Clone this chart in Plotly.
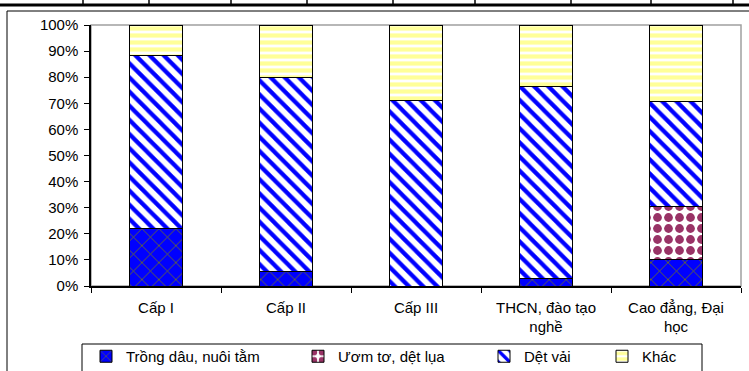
import plotly.graph_objects as go

categories = ["Cấp I", "Cấp II", "Cấp III", "THCN, đào tạo<br>nghề", "Cao đẳng, Đại<br>học"]
trong_dau = [0.222, 0.054, 0.0, 0.03, 0.103]
uom_to = [0.0, 0.0, 0.0, 0.0, 0.200]
det_vai = [0.663, 0.746, 0.709, 0.736, 0.402]
khac = [0.115, 0.200, 0.291, 0.234, 0.295]
series_names = ["Trồng dâu, nuôi tằm", "Ươm tơ, dệt lụa", "Dệt vải", "Khác"]
y_ticks = [i / 10 for i in range(11)]

W, H = 749, 371
L, R, T, B = 91, 741, 25, 286


def px(x):
    return (x - L) / (R - L)


def py(y):
    return (B - y) / (B - T)


FONT = "Liberation Sans, Arial, sans-serif"

styles = [
    dict(shape="x", fgcolor="#808000", bgcolor="#0000FF", size=12, solidity=0.12),
    dict(shape=".", fgcolor="#993366", bgcolor="#FFFFFF", size=11, solidity=0.5),
    dict(shape="\\", fgcolor="#0000FF", bgcolor="#FFFFFF", size=10, solidity=0.42),
    dict(shape="-", fgcolor="#FFFF99", bgcolor="#FFFFFF", size=7, solidity=0.6),
]
legend_ids = ["legend", "legend2", "legend3", "legend4"]
legend_centers = [110, 322, 508, 626]

fig = go.Figure()
for name, vals, st, lid in zip(series_names, [trong_dau, uom_to, det_vai, khac], styles, legend_ids):
    fig.add_trace(go.Bar(
        x=categories, y=vals, name=name, width=0.41, legend=lid,
        marker=dict(color=st["bgcolor"], pattern=dict(fillmode="replace", **st),
                    line=dict(color="#000000", width=1)),
    ))

shapes = []
shapes.append(dict(type="rect", xref="paper", yref="paper", x0=0, x1=1, y0=0, y1=1,
                   line=dict(color="#A0A0A0", width=1.5), layer="below"))
shapes.append(dict(type="rect", xref="paper", yref="paper", x0=px(7), x1=px(760), y0=py(11), y1=py(380),
                   line=dict(color="#000000", width=1)))
shapes.append(dict(type="line", xref="paper", yref="paper", x0=px(0), x1=px(749), y0=py(5), y1=py(5),
                   line=dict(color="#000000", width=3)))
for tx in [83, 149, 231, 307, 393, 475, 571, 651, 733]:
    shapes.append(dict(type="line", xref="paper", yref="paper", x0=px(tx), x1=px(tx), y0=py(0), y1=py(5),
                       line=dict(color="#000000", width=1.5)))
shapes.append(dict(type="rect", xref="paper", yref="paper", x0=px(82), x1=px(702), y0=py(344), y1=py(380),
                   line=dict(color="#000000", width=1)))

legend_layout = {}
for lid, cx in zip(legend_ids, legend_centers):
    legend_layout[lid] = dict(orientation="h", xref="container", yref="container",
                              x=(cx - 24) / W, y=1 - 340 / H, xanchor="left", yanchor="top",
                              bgcolor="rgba(0,0,0,0)", borderwidth=0, itemwidth=30,
                              font=dict(size=15, family=FONT, color="#000000"))

fig.update_layout(
    width=W, height=H,
    margin=dict(l=L, r=W - R, t=T, b=H - B, autoexpand=False),
    paper_bgcolor="#FFFFFF", plot_bgcolor="#FFFFFF",
    barmode="stack", bargap=0.59,
    font=dict(family=FONT, size=15, color="#000000"),
    shapes=shapes,
    showlegend=True,
    annotations=[dict(text="g", xref="paper", yref="paper", x=px(3), y=py(-6), xanchor="left",
                      yanchor="bottom", showarrow=False, font=dict(size=20, family=FONT, color="#000"))],
    **legend_layout,
)
fig.update_xaxes(type="category", showline=True, linecolor="#000000", linewidth=1.5,
                 ticks="outside", tickson="boundaries", ticklen=5, tickcolor="#000000",
                 showgrid=False, tickfont=dict(size=15, family=FONT), ticklabelstandoff=7)
fig.update_yaxes(range=[0, 1], tickvals=y_ticks, tickformat=".0%", showline=True,
                 linecolor="#000000", linewidth=1.5, ticks="outside", ticklen=5,
                 tickcolor="#000000", showgrid=False, zeroline=False,
                 tickfont=dict(size=15, family=FONT), ticklabelstandoff=3)

fig.write_html("out.html", config={"displayModeBar": False},
               post_script="document.body.style.margin='0';document.body.style.overflow='hidden';")
